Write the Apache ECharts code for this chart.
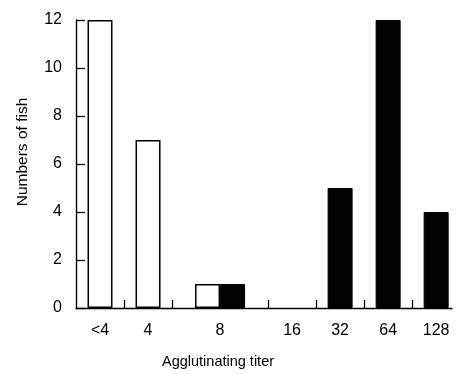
<!DOCTYPE html>
<html><head><meta charset="utf-8">
<script src="https://cdn.jsdelivr.net/npm/echarts@6/dist/echarts.min.js"></script>
<style>html,body{margin:0;padding:0;background:#fff}#c{width:461px;height:374px}</style>
</head><body><div id="c"></div>
<script>
const categories = ['<4', '4', '8', '16', '32', '64', '128'];
const whiteCounts = [12, 7, 1, 0, 0, 0, 0];
const blackCounts = [0, 0, 1, 0, 5, 12, 4];
const yTicks = [0, 2, 4, 6, 8, 10, 12];

const BAR_PX = 25, SLOT_PX = 48;
const half = BAR_PX / SLOT_PX / 2;
let slot = 0;
const labelPos = [], whiteData = [], blackData = [];
categories.forEach((c, i) => {
  const w = whiteCounts[i], b = blackCounts[i];
  if (w > 0 && b > 0) {
    const mid = slot + 1;
    labelPos.push(mid);
    whiteData.push([mid - half, w]);
    blackData.push([mid + half, b]);
    slot += 2;
  } else {
    const mid = slot + 0.5;
    labelPos.push(mid);
    if (w > 0) whiteData.push([mid, w]);
    if (b > 0) blackData.push([mid, b]);
    slot += 1;
  }
});
const tickPos = [];
for (let k = 1; k < slot; k++) tickPos.push(k);
function labelFor(v) {
  const i = labelPos.findIndex(p => Math.abs(p - v) < 1e-6);
  return i >= 0 ? categories[i] : '';
}
const FONT = 'Liberation Sans';
const chart = echarts.init(document.getElementById('c'), null, {renderer: 'canvas'});
chart.setOption({
  animation: false,
  backgroundColor: '#fff',
  grid: {left: 76, right: 9, top: 20, bottom: 63},
  xAxis: {
    type: 'value', min: 0, max: 7.83,
    axisLine: {show: true, lineStyle: {color: '#000', width: 1.4}},
    axisTick: {show: true, inside: true, length: 8, customValues: tickPos, lineStyle: {color: '#000', width: 1.3}},
    axisLabel: {customValues: labelPos, formatter: v => labelFor(v), margin: 15, fontSize: 16, color: '#000', fontFamily: FONT},
    splitLine: {show: false},
    name: 'Agglutinating titer', nameLocation: 'middle', nameGap: 46,
    nameTextStyle: {fontSize: 14.5, color: '#000', fontFamily: FONT, padding: [0, 92, 0, 0]}
  },
  yAxis: {
    type: 'value', min: yTicks[0], max: yTicks[yTicks.length - 1], interval: 2,
    axisLine: {show: true, lineStyle: {color: '#000', width: 1.4}},
    axisTick: {show: true, inside: true, length: 9, lineStyle: {color: '#000', width: 1.3}},
    axisLabel: {margin: 14, fontSize: 16, color: '#000', fontFamily: FONT},
    splitLine: {show: false},
    name: 'Numbers of fish', nameLocation: 'middle', nameGap: 45,
    nameTextStyle: {fontSize: 15.5, color: '#000', fontFamily: FONT, padding: [0, 0, 0, 24]}
  },
  series: [
    {type: 'bar', name: 'white', data: whiteData, barWidth: BAR_PX, barGap: '-100%',
     itemStyle: {color: '#fff', borderColor: '#000', borderWidth: 1.5}},
    {type: 'bar', name: 'black', data: blackData, barWidth: BAR_PX, barGap: '-100%',
     itemStyle: {color: '#000', borderColor: '#000', borderWidth: 1}}
  ]
});
</script></body></html>
